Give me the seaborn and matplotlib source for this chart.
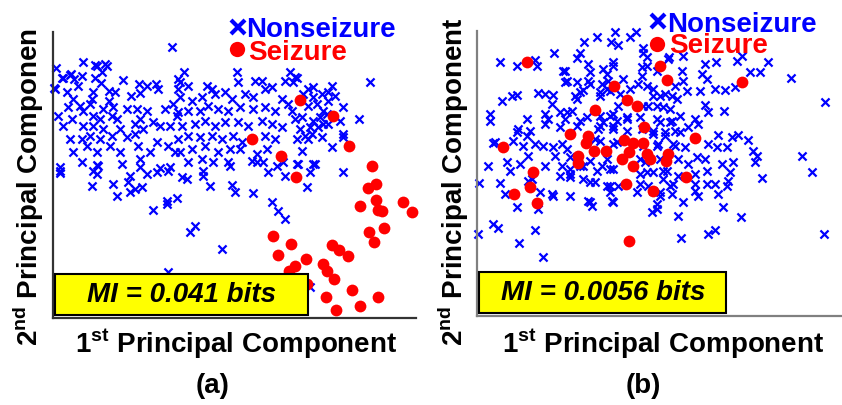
import numpy as np
import matplotlib
matplotlib.use("Agg")
import matplotlib.pyplot as plt
from matplotlib.patches import Rectangle
import seaborn as sns

# (PC1, PC2) scores, arbitrary units
a_nonseizure = [
    (119,271),(30,256),(44,252),(52,254),(54,252),(49,246),(3,250),(10,240),(18,244),(21,239),
    (29,242),(25,232),(42,240),(48,235),(70,238),(2,229),(14,226),(40,226),(56,227),(62,226),
    (56,217),(86,234),(94,232),(103,234),(105,229),(78,222),(87,225),(125,239),(125,229),(20,219),
    (15,211),(27,212),(37,214),(39,219),(5,202),(19,199),(10,192),(30,207),(40,202),(50,209),
    (60,211),(59,202),(74,209),(84,209),(94,207),(87,199),(100,196),(112,209),(120,214),(124,202),
    (30,192),(40,192),(47,199),(50,189),(64,199),(67,189),(82,194),(90,189),(107,192),(117,192),
    (17,179),(29,179),(37,182),(47,179),(59,182),(74,181),(82,184),(20,166),(34,172),(44,166),
    (57,172),(67,166),(85,172),(97,166),(104,176),(115,172),(122,166),(29,156),(44,153),(69,154),
    (87,159),(87,151),(7,151),(107,150),(117,151),(42,253),(17,243),(9,240),(1,230),
    (131,246),(127,236),(135,232),(154,232),(159,229),(184,246),(185,236),(202,237),(209,237),(212,229),
    (219,231),(237,246),(232,237),(240,236),(127,221),(139,217),(149,221),(162,224),(172,226),(179,219),
    (192,224),(200,221),(229,219),(235,214),(125,206),(135,207),(147,207),(155,212),(165,209),(175,207),
    (187,211),(200,209),(212,211),(222,207),(239,207),(242,199),(129,192),(142,194),(152,197),(162,192),
    (172,196),(185,196),(195,192),(209,197),(219,194),(229,191),(125,179),(135,182),(147,181),(159,182),
    (169,179),(180,182),(189,176),(212,182),(222,179),(127,166),(139,169),(152,172),(165,166),(177,169),
    (187,169),(204,164),(214,169),(135,156),(149,159),(160,156),(175,156),(199,157),(210,156),(230,156),
    (244,240),(317,236),(279,232),(255,229),(260,231),(250,224),(260,221),(269,224),(275,226),(282,222),
    (275,217),(255,212),(264,214),(290,211),(270,207),(267,201),(274,204),(249,201),(260,197),(270,194),
    (306,199),(287,197),(247,189),(257,191),(265,191),(275,194),(252,182),(259,184),(269,181),(290,184),
    (290,181),(244,179),(255,179),(279,171),(249,167),(262,154),(244,154),(242,241),
    (7,147),(7,145),(40,147),(44,144),(45,152),(39,132),(60,134),(64,122),(77,142),(75,136),
    (77,126),(82,129),(89,131),(94,144),(104,146),(115,147),(100,108),(114,117),(114,114),(124,120),
    (129,141),(134,139),(150,147),(150,142),(157,132),(177,152),(179,133),(182,126),(200,125),(204,156),
    (215,146),(224,152),(232,142),(245,154),(260,154),(257,146),(254,131),(290,146),(219,116),(225,107),
    (232,99),(137,86),(142,92),(169,69),(115,46),(257,31),
]
a_seizure = [
    (247,218),(280,202),(199,179),(228,162),(296,172),(243,141),(319,152),(315,130),(323,134),(323,118),
    (307,112),(325,108),(329,107),(350,116),(359,106),(331,90),(316,86),(321,76),(220,82),(238,74),
    (225,63),(253,59),(279,73),(286,68),(295,62),(242,52),(236,47),(270,54),(274,47),(281,39),
    (299,28),(273,21),(283,8),(307,12),(325,21),(254,34),
]

b_nonseizure = [
    (77,263),(103,263),(107,274),(120,279),(134,274),(141,271),(138,284),(153,279),(159,284),(166,268),
    (166,263),(192,259),(206,260),(265,260),
    (23,254),(40,250),(60,250),(58,256),(100,258),(86,245),(111,252),(113,244),(126,247),(136,254),
    (130,242),(90,235),(100,234),(111,235),(125,232),(131,235),(146,237),(25,215),(35,220),(40,221),
    (61,223),(68,222),(76,221),(98,220),(100,217),(106,226),(123,224),(133,225),(143,222),(153,227),
    (161,232),(13,202),(13,195),(50,197),(68,202),(71,197),(83,204),(95,205),(88,197),(110,199),
    (123,200),(136,202),(126,194),(140,195),(150,197),(41,187),(53,185),(68,192),(83,189),(100,190),
    (121,187),(136,190),(150,185),(18,174),(36,175),(46,170),(58,172),(66,170),(76,169),(85,172),
    (118,177),(140,174),(11,150),(30,154),(33,145),(43,152),(51,160),(68,150),(78,160),(85,150),
    (93,159),(103,150),(113,155),(125,150),(136,147),(2,133),(23,133),(28,122),(51,135),(63,124),
    (75,122),(83,140),(93,142),(93,120),(106,137),(118,134),(130,130),(133,124),(141,130),(40,109),
    (61,107),(111,115),(115,110),(135,115),(1,82),(16,92),(21,88),(58,86),(42,73),(66,59),
    (176,125),(175,104),(180,107),(40,184),(16,173),(75,212),(50,180),(55,137),(76,120),
    (170,259),(191,257),(228,252),(239,254),(260,255),(291,254),(165,249),(180,245),(205,245),(225,242),
    (230,237),(273,244),(283,244),(314,238),(348,214),(206,235),(198,230),(210,225),(223,225),(238,227),
    (248,226),(258,229),(170,230),(176,220),(188,222),(200,217),(171,210),(186,209),(228,211),(231,204),
    (247,205),(203,200),(180,197),(193,194),(218,197),(221,192),(165,187),(176,182),(188,184),(203,184),
    (211,189),(241,181),(255,179),(261,181),(271,176),(166,170),(180,170),(196,172),(208,169),(231,172),
    (240,169),(250,169),(276,165),(280,160),(325,160),(168,154),(183,157),(201,157),(211,152),(220,159),
    (228,157),(245,152),(256,154),(278,154),(335,144),(170,144),(186,145),(201,140),(218,142),(230,145),
    (253,144),(285,138),(171,130),(193,130),(218,132),(230,132),(238,132),(251,135),(250,130),(183,124),
    (195,122),(218,125),(221,120),(241,122),(206,114),(201,100),(246,109),(264,99),(231,82),(238,86),
    (204,78),(347,82),
    (88,245),(136,250),(170,250),(165,240),(88,234),(113,232),(130,227),(103,224),(123,220),(176,227),
    (183,220),(195,220),(166,210),(180,210),(193,207),(141,210),(133,200),(150,199),(163,199),(183,194),
    (195,195),(90,204),(103,195),(123,190),(136,187),(176,185),(188,180),(198,185),(123,175),(136,172),
    (181,172),(198,170),(90,167),(130,157),(163,157),(93,147),(106,150),(120,145),(133,147),(163,142),
    (176,144),(190,145),(93,139),(113,134),(133,130),(163,132),(186,137),(196,132),(160,124),(183,120),
    (113,114),(136,114),(180,112),
]
b_seizure = [
    (50,254),(180,272),(183,250),(190,236),(265,234),(137,230),(150,216),(160,210),(118,206),(167,189),
    (93,182),(111,180),(109,173),(26,169),(117,165),(129,165),(147,176),(156,173),(166,173),(152,164),
    (170,162),(173,157),(191,162),(189,155),(218,178),(101,160),(101,153),(145,157),(156,150),(56,144),
    (209,139),(53,129),(37,122),(60,113),(149,132),(176,125),(152,75),
]

mi_labels = ["MI = 0.041 bits", "MI = 0.0056 bits"]
panel_tags = ["(a)", "(b)"]
ylabels = [r"2$^{\mathbf{nd}}$ Principal Componen", r"2$^{\mathbf{nd}}$ Principal Component"]
xlabel = r"1$^{\mathbf{st}}$ Principal Component"

sns.set_theme(style="white")
plt.rcParams["font.family"] = ["Liberation Sans", "DejaVu Sans"]
plt.rcParams["font.weight"] = "bold"
plt.rcParams["text.color"] = "black"
plt.rcParams["mathtext.fontset"] = "custom"
plt.rcParams["mathtext.rm"] = "Liberation Sans:bold"
plt.rcParams["mathtext.bf"] = "Liberation Sans:bold"

BLUE = "#0000ff"
RED = "#ff0000"
FS = 20

fig = plt.figure(figsize=(8.42, 4.06), dpi=100)
ax_a = fig.add_axes([0.063, 0.214, 0.431, 0.705])
ax_b = fig.add_axes([0.5665, 0.219, 0.432, 0.702])


def draw_panel(ax, non, sz, lims, spine_col, mi, mi_x, leg):
    nx, ny = np.array(non).T
    sx, sy = np.array(sz).T
    sns.scatterplot(x=nx, y=ny, ax=ax, marker="x", color=BLUE, s=34,
                    linewidth=1.6, zorder=2, clip_on=False)
    sns.scatterplot(x=sx, y=sy, ax=ax, marker="o", color=RED, s=72,
                    linewidth=0, zorder=3, clip_on=False)
    ax.set_xlim(0, lims[0])
    ax.set_ylim(0, lims[1])
    ax.set_xticks([])
    ax.set_yticks([])
    ax.set_xlabel("")
    ax.set_ylabel("")
    for s in ["top", "right"]:
        ax.spines[s].set_visible(False)
    for s in ["left", "bottom"]:
        ax.spines[s].set_color(spine_col)
        ax.spines[s].set_linewidth(1.6)

    # yellow MI box
    ax.add_patch(Rectangle((0.0055, 0.0105), mi_x[1], 0.1435, transform=ax.transAxes,
                           facecolor="#ffff00", edgecolor="black", lw=1.5,
                           zorder=5, clip_on=False))
    ax.text(mi_x[0], 0.06, mi, transform=ax.transAxes, ha="center", va="baseline",
            fontsize=FS, fontweight="bold", fontstyle="italic", color="black", zorder=6)

    # hand-made legend
    mx, tx, y1, b1, y2, b2 = leg
    ax.plot([mx], [y1], marker="x", ms=10, mew=3, color=BLUE, transform=ax.transAxes,
            clip_on=False, zorder=7)
    ax.text(tx, b1, "Nonseizure", color=BLUE, fontsize=FS, fontweight="bold",
            transform=ax.transAxes, ha="left", va="baseline", zorder=7)
    ax.plot([mx - 0.003], [y2], marker="o", ms=11, mew=0, color=RED, transform=ax.transAxes,
            clip_on=False, zorder=7)
    ax.text(tx + 0.005, b2, "Seizure", color=RED, fontsize=FS, fontweight="bold",
            transform=ax.transAxes, ha="left", va="baseline", zorder=7)


draw_panel(ax_a, a_nonseizure, a_seizure, (363, 286), "#333333", mi_labels[0],
           (0.355, 0.6965), (0.510, 0.532, 1.017, 0.987, 0.941, 0.906))
draw_panel(ax_b, b_nonseizure, b_seizure, (364, 285), "#808080", mi_labels[1],
           (0.346, 0.678), (0.497, 0.522, 1.035, 1.0, 0.954, 0.926))

# axis labels and panel tags
for xc, yl_x, lab, tag, tag_x in [(0.281, 0.0451, ylabels[0], panel_tags[0], 0.253),
                                  (0.788, 0.550, ylabels[1], panel_tags[1], 0.764)]:
    fig.text(xc, 0.131, xlabel, ha="center", va="baseline", fontsize=FS, fontweight="bold")
    fig.text(yl_x, 0.147, lab, rotation=90, rotation_mode="anchor", ha="left",
             va="baseline", fontsize=FS, fontweight="bold")
    fig.text(tag_x, 0.033, tag, ha="center", va="baseline", fontsize=FS, fontweight="bold")

fig.savefig("out.png", dpi=100)
